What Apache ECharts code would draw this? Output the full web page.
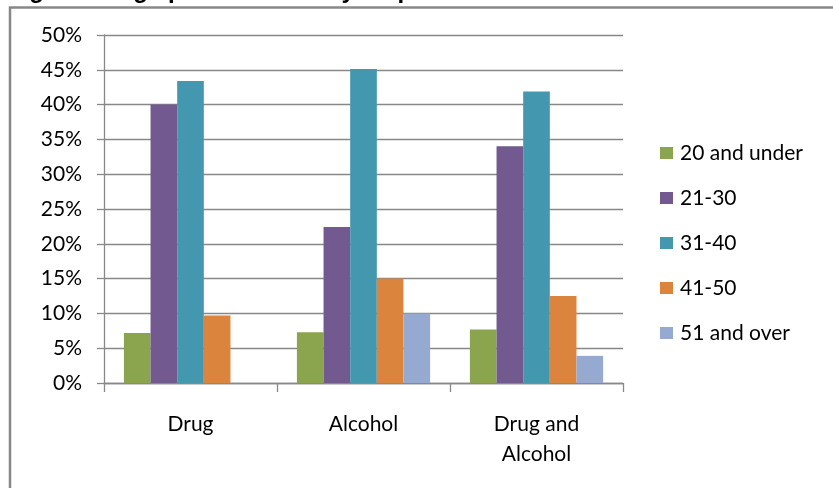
<!DOCTYPE html>
<html>
<head>
<meta charset="utf-8">
<script src="https://cdn.jsdelivr.net/npm/echarts@6/dist/echarts.min.js"></script>
<style>
  html, body { margin: 0; padding: 0; background: #fff; }
  #chart { width: 833px; height: 488px; }
</style>
</head>
<body>
<div id="chart"></div>
<script>
// Age profile of survey respondents, by substance group (percent)
const categories = ['Drug', 'Alcohol', 'Drug and\nAlcohol'];
const ageGroups = ['20 and under', '21-30', '31-40', '41-50', '51 and over'];
const under20 = [7.2, 7.3, 7.7];
const age21to30 = [40.0, 22.4, 34.0];
const age31to40 = [43.4, 45.1, 41.9];
const age41to50 = [9.7, 15.0, 12.5];
const over51 = [0, 10.0, 3.9];
const yTicks = { min: 0, max: 50, step: 5 };

const seriesValues = [under20, age21to30, age31to40, age41to50, over51];
const palette = ['#8BA54F', '#72598F', '#4398B0', '#DB843E', '#96AAD1'];
const fontFamily = 'Lato, "Open Sans", sans-serif';
const gridColor = '#888888';

const chart = echarts.init(document.getElementById('chart'), null, { renderer: 'canvas' });

chart.setOption({
  animation: false,
  backgroundColor: '#ffffff',
  color: palette,
  graphic: [
    {
      type: 'text',
      left: 8,
      top: -21,
      silent: true,
      style: {
        text: 'Figure 4: Age profile of survey respondents',
        font: 'bold 24px "Liberation Sans", Arial, sans-serif',
        fill: '#000000'
      }
    },
    {
      type: 'rect',
      silent: true,
      shape: { x: 10, y: 7.5, width: 840, height: 500 },
      style: { fill: 'none', stroke: gridColor, lineWidth: 2.5 }
    }
  ],
  grid: { left: 104, right: 210, top: 35, bottom: 105, containLabel: false },
  legend: {
    orient: 'vertical',
    left: 655,
    top: 136,
    itemWidth: 13,
    itemHeight: 12,
    itemGap: 21,
    icon: 'rect',
    data: ageGroups,
    textStyle: { fontFamily: fontFamily, fontSize: 21, color: '#000', lineHeight: 24, padding: [0, 0, 0, 2] }
  },
  xAxis: {
    type: 'category',
    data: categories,
    axisLine: { lineStyle: { color: gridColor, width: 1.3 } },
    axisTick: { show: true, length: 9, alignWithLabel: false, lineStyle: { color: gridColor, width: 1.3 } },
    axisLabel: { fontFamily: fontFamily, fontSize: 21, color: '#000', lineHeight: 30, margin: 26, interval: 0 }
  },
  yAxis: {
    type: 'value',
    min: yTicks.min,
    max: yTicks.max,
    interval: yTicks.step,
    axisLine: { show: true, lineStyle: { color: gridColor, width: 1.3 } },
    axisTick: { show: true, length: 7, lineStyle: { color: gridColor, width: 1.3 } },
    axisLabel: { fontFamily: fontFamily, fontSize: 21, color: '#000', margin: 22, formatter: '{value}%' },
    splitLine: { show: true, lineStyle: { color: gridColor, width: 1.3 } }
  },
  series: ageGroups.map((name, i) => ({
    name: name,
    type: 'bar',
    data: seriesValues[i],
    barGap: '0%',
    barCategoryGap: '23%',
    itemStyle: { color: palette[i] }
  }))
});
</script>
</body>
</html>
